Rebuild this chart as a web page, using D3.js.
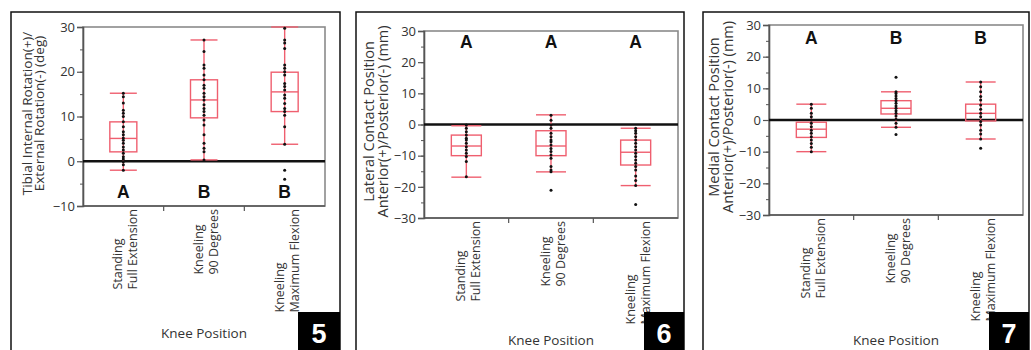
<!DOCTYPE html>
<html>
<head>
<meta charset="utf-8">
<script src="https://cdn.jsdelivr.net/npm/d3@7"></script>
<style>
  body { margin: 0; background: #fff; }
  text { font-family: "Open Sans", "DejaVu Sans", sans-serif; fill: #333; }
  .grp { font-family: "Liberation Sans", Arial, sans-serif; font-weight: bold; fill: #111; }
  .num { font-family: "Liberation Sans", Arial, sans-serif; font-weight: bold; fill: #fff; }
</style>
</head>
<body>
<svg id="chart" width="1031" height="350"></svg>
<script>
'use strict';

// categories shared by the three panels (two lines each)
const categories = [["Standing", "Full Extension"], ["Kneeling", "90 Degrees"], ["Kneeling", "Maximum Flexion"]];
const xTitle = "Knee Position";

// Fig 5 - tibial rotation (deg)
const rot_title = ["Tibial Internal Rotation(+)/", "External Rotation(-) (deg)"];
const rot_ticks = [-10, 0, 10, 20, 30];
const rot_letters = ["A", "B", "B"];
// [lower whisker, q1, median, q3, upper whisker]
const rot_stats = [[-2, 2.1, 5.1, 8.8, 15.2], [0.3, 9.7, 13.7, 18.2, 27.1], [3.8, 11.1, 15.5, 19.9, 30]];
const rot_points = [
  [15.2, 14.4, 13, 11.4, 10.7, 10, 8.8, 7.7, 6.6, 5.9, 5.2, 4.7, 4, 3.2, 2.5, 1.8, 1, 0.5, -0.1, -0.8, -2],
  [27.1, 24.5, 21.5, 20.8, 19.3, 18.2, 17, 16.3, 15.2, 14.4, 13.7, 12.6, 11.8, 11.1, 10.3, 9.2, 8.1, 5.9, 4, 2.9, 2.1, 0.3],
  [29.7, 27.1, 26.4, 25.2, 21.5, 20.8, 20, 19.3, 17.4, 16.7, 15.9, 14.8, 14.1, 12.9, 11.8, 11.1, 10.3, 7.7, 3.8, -2, -4]
];

// Fig 6 - lateral contact position (mm)
const lat_title = ["Lateral Contact Position", "Anterior(+)/Posterior(-) (mm)"];
const lat_ticks = [-30, -20, -10, 0, 10, 20, 30];
const lat_letters = ["A", "A", "A"];
const lat_stats = [[-16.9, -10, -6.9, -3.4, -0.4], [-15.2, -10, -6.9, -2, 3.1], [-19.6, -13, -8.9, -5, -1.2]];
const lat_points = [
  [-0.2, -1.2, -2.3, -3.4, -4.4, -5, -6, -7.1, -8.2, -9.2, -10.3, -11.9, -16.8],
  [3, 1.4, -0.2, -1.2, -2.8, -3.9, -5, -5.5, -6.6, -7.7, -8.7, -9.8, -10.8, -13.5, -14.6, -15.2, -21.1],
  [-1.2, -2, -2.8, -3.9, -5, -6, -7.1, -8.2, -9.2, -10.3, -11.4, -12.4, -13.5, -14.6, -16.5, -18, -19.6, -25.7]
];

// Fig 7 - medial contact position (mm)
const med_title = ["Medial Contact Position", "Anterior(+)/Posterior(-) (mm)"];
const med_ticks = [-30, -20, -10, 0, 10, 20, 30];
const med_letters = ["A", "B", "B"];
const med_stats = [[-10, -5.5, -2.9, -0.7, 5], [-2.3, 1.9, 3.7, 6.1, 8.9], [-6, -0.3, 2.1, 5, 12]];
const med_points = [
  [5, 3.7, 2.1, 1, 0, -1, -2.1, -3.2, -4.2, -5.3, -6.3, -7.4, -8.6, -10],
  [13.5, 8.9, 8.4, 7.6, 6.8, 6.1, 5.3, 4.4, 3.7, 2.9, 2.1, 1.3, 0.2, -1, -2.3, -4.6],
  [12, 10.5, 8.9, 7.4, 6.3, 4.7, 3.4, 2.1, 1, -0.5, -1.6, -3.2, -4.4, -6, -8.9]
];

const boxColour = "#ef5f6f";

const svg = d3.select("#chart");

function drawPanel(p)
{
  // outer frame (runs off the bottom of the picture)
  svg.append("rect")
    .attr("x", p.frame[0]).attr("y", p.frame[1])
    .attr("width", p.frame[2] - p.frame[0]).attr("height", 400)
    .attr("fill", "none").attr("stroke", "#111").attr("stroke-width", 1.5);

  const y = d3.scaleLinear().domain(d3.extent(p.ticks)).range([p.plot[3], p.plot[1]]);
  const x = d3.scaleBand().domain(d3.range(categories.length)).range([p.plot[0], p.plot[2]]);
  const cx = function(i) { return x(i) + x.bandwidth() / 2; };

  // plot border
  svg.append("rect")
    .attr("x", p.plot[0]).attr("y", p.plot[1])
    .attr("width", p.plot[2] - p.plot[0]).attr("height", p.plot[3] - p.plot[1])
    .attr("fill", "none").attr("stroke", "#8a8a8a").attr("stroke-width", 1.6);

  // minor + major y ticks
  const minor = d3.range(p.ticks[0], p.ticks[p.ticks.length - 1] + 0.1, 5);
  svg.append("g")
    .attr("transform", `translate(${p.plot[0]},0)`)
    .call(d3.axisLeft(y).tickValues(minor).tickSize(3).tickFormat(""))
    .call(g => g.select(".domain").remove())
    .call(g => g.selectAll("line").attr("stroke", "#555"));

  svg.append("g")
    .attr("transform", `translate(${p.plot[0]},0)`)
    .call(d3.axisLeft(y).tickValues(p.ticks).tickSize(6).tickPadding(2).tickFormat(d3.format("d")))
    .call(g => g.select(".domain").attr("stroke", "#555").attr("stroke-width", 1.6))
    .call(g => g.selectAll("line").attr("stroke", "#555").attr("stroke-width", 1.2))
    .call(g => g.selectAll("text").attr("font-size", 13).attr("fill", "#333")
      .style("font-family", "'Open Sans', sans-serif"));

  // bottom axis with separators between categories
  svg.append("line")
    .attr("x1", p.plot[0]).attr("x2", p.plot[2])
    .attr("y1", p.plot[3]).attr("y2", p.plot[3])
    .attr("stroke", "#555").attr("stroke-width", 1.6);
  svg.append("g")
    .selectAll("line")
    .data(d3.range(1, categories.length))
    .enter().append("line")
    .attr("x1", d => x(d)).attr("x2", d => x(d))
    .attr("y1", p.plot[3]).attr("y2", p.plot[3] + 5)
    .attr("stroke", "#555").attr("stroke-width", 1.2);

  // zero line
  svg.append("line")
    .attr("x1", p.plot[0]).attr("x2", p.plot[2])
    .attr("y1", y(0)).attr("y2", y(0))
    .attr("stroke", "#111").attr("stroke-width", 2.4);

  // boxes
  const bw = p.boxW;
  const boxes = svg.append("g")
    .attr("fill", "none").attr("stroke", boxColour).attr("stroke-width", 1.4)
    .selectAll("g")
    .data(p.stats)
    .enter().append("g");

  boxes.append("line")
    .attr("x1", (d, i) => cx(i)).attr("x2", (d, i) => cx(i))
    .attr("y1", d => y(d[0])).attr("y2", d => y(d[4]));
  boxes.append("rect")
    .attr("x", (d, i) => cx(i) - bw / 2).attr("width", bw)
    .attr("y", d => y(d[3])).attr("height", d => y(d[1]) - y(d[3]));
  boxes.append("line")
    .attr("x1", (d, i) => cx(i) - bw / 2).attr("x2", (d, i) => cx(i) + bw / 2)
    .attr("y1", d => y(d[2])).attr("y2", d => y(d[2]));
  [0, 4].forEach(function(k) {
    boxes.append("line")
      .attr("x1", (d, i) => cx(i) - bw / 2).attr("x2", (d, i) => cx(i) + bw / 2)
      .attr("y1", d => y(d[k])).attr("y2", d => y(d[k]));
  });

  // raw points
  svg.append("g")
    .selectAll("g")
    .data(p.points)
    .enter().append("g")
    .each(function(vals, i) {
      d3.select(this).selectAll("circle")
        .data(vals)
        .enter().append("circle")
        .attr("cx", cx(i))
        .attr("cy", d => y(d))
        .attr("r", 1.5)
        .attr("fill", "#111");
    });

  // group letters
  svg.append("g")
    .selectAll("text")
    .data(p.letters)
    .enter().append("text")
    .attr("class", "grp")
    .attr("x", (d, i) => cx(i))
    .attr("y", p.letterY)
    .attr("text-anchor", "middle")
    .attr("font-size", 17.5)
    .text(d => d);

  // y title, two rotated lines
  const ty = (p.plot[1] + p.plot[3]) / 2 - 3;
  svg.append("g")
    .selectAll("text")
    .data(p.title)
    .enter().append("text")
    .attr("transform", (d, i) => `translate(${p.titleX + i * p.titleGap},${ty}) rotate(-90)`)
    .attr("text-anchor", "middle")
    .attr("font-size", p.titleSize)
    .attr("fill", "#2a2a2a")
    .text(d => d);

  // category labels, rotated, left aligned, longest line touching the axis
  categories.forEach(function(lines, i) {
    const g = svg.append("g");
    const t = g.selectAll("text")
      .data(lines)
      .enter().append("text")
      .attr("font-size", 12.5)
      .attr("fill", "#2a2a2a")
      .text(d => d);
    const maxLen = d3.max(t.nodes(), n => n.getComputedTextLength());
    const y0 = p.plot[3] + 3 + maxLen;
    t.attr("transform", (d, j) => `translate(${cx(i) - 1 + j * 15},${y0}) rotate(-90)`);
  });

  svg.append("text")
    .attr("x", (p.plot[0] + p.plot[2]) / 2)
    .attr("y", p.xTitleY)
    .attr("text-anchor", "middle")
    .attr("font-size", 13.5)
    .attr("fill", "#222")
    .text(xTitle);

  // figure number
  svg.append("rect")
    .attr("x", p.numBox[0]).attr("y", p.numBox[1])
    .attr("width", p.numBox[2] - p.numBox[0]).attr("height", 50)
    .attr("fill", "#000");
  svg.append("text")
    .attr("class", "num")
    .attr("x", (p.numBox[0] + p.numBox[2]) / 2)
    .attr("y", 343)
    .attr("text-anchor", "middle")
    .attr("font-size", 27)
    .text(p.num);
}

drawPanel({
  frame: [11, 12, 340], plot: [83, 27, 325, 206], ticks: rot_ticks,
  stats: rot_stats, points: rot_points, letters: rot_letters, letterY: 198,
  title: rot_title, titleX: 32, titleGap: 12, titleSize: 13.5,
  xTitleY: 338, boxW: 27, numBox: [298, 312, 340], num: "5"
});

drawPanel({
  frame: [356, 12, 684], plot: [424, 31, 678, 218], ticks: lat_ticks,
  stats: lat_stats, points: lat_points, letters: lat_letters, letterY: 48,
  title: lat_title, titleX: 374, titleGap: 14, titleSize: 14.5,
  xTitleY: 345, boxW: 30, numBox: [644, 312, 684], num: "6"
});

drawPanel({
  frame: [703, 12, 1029], plot: [769, 25, 1023, 215], ticks: med_ticks,
  stats: med_stats, points: med_points, letters: med_letters, letterY: 43.5,
  title: med_title, titleX: 719, titleGap: 14, titleSize: 14.5,
  xTitleY: 345, boxW: 30, numBox: [989, 312, 1029], num: "7"
});
</script>
</body>
</html>
